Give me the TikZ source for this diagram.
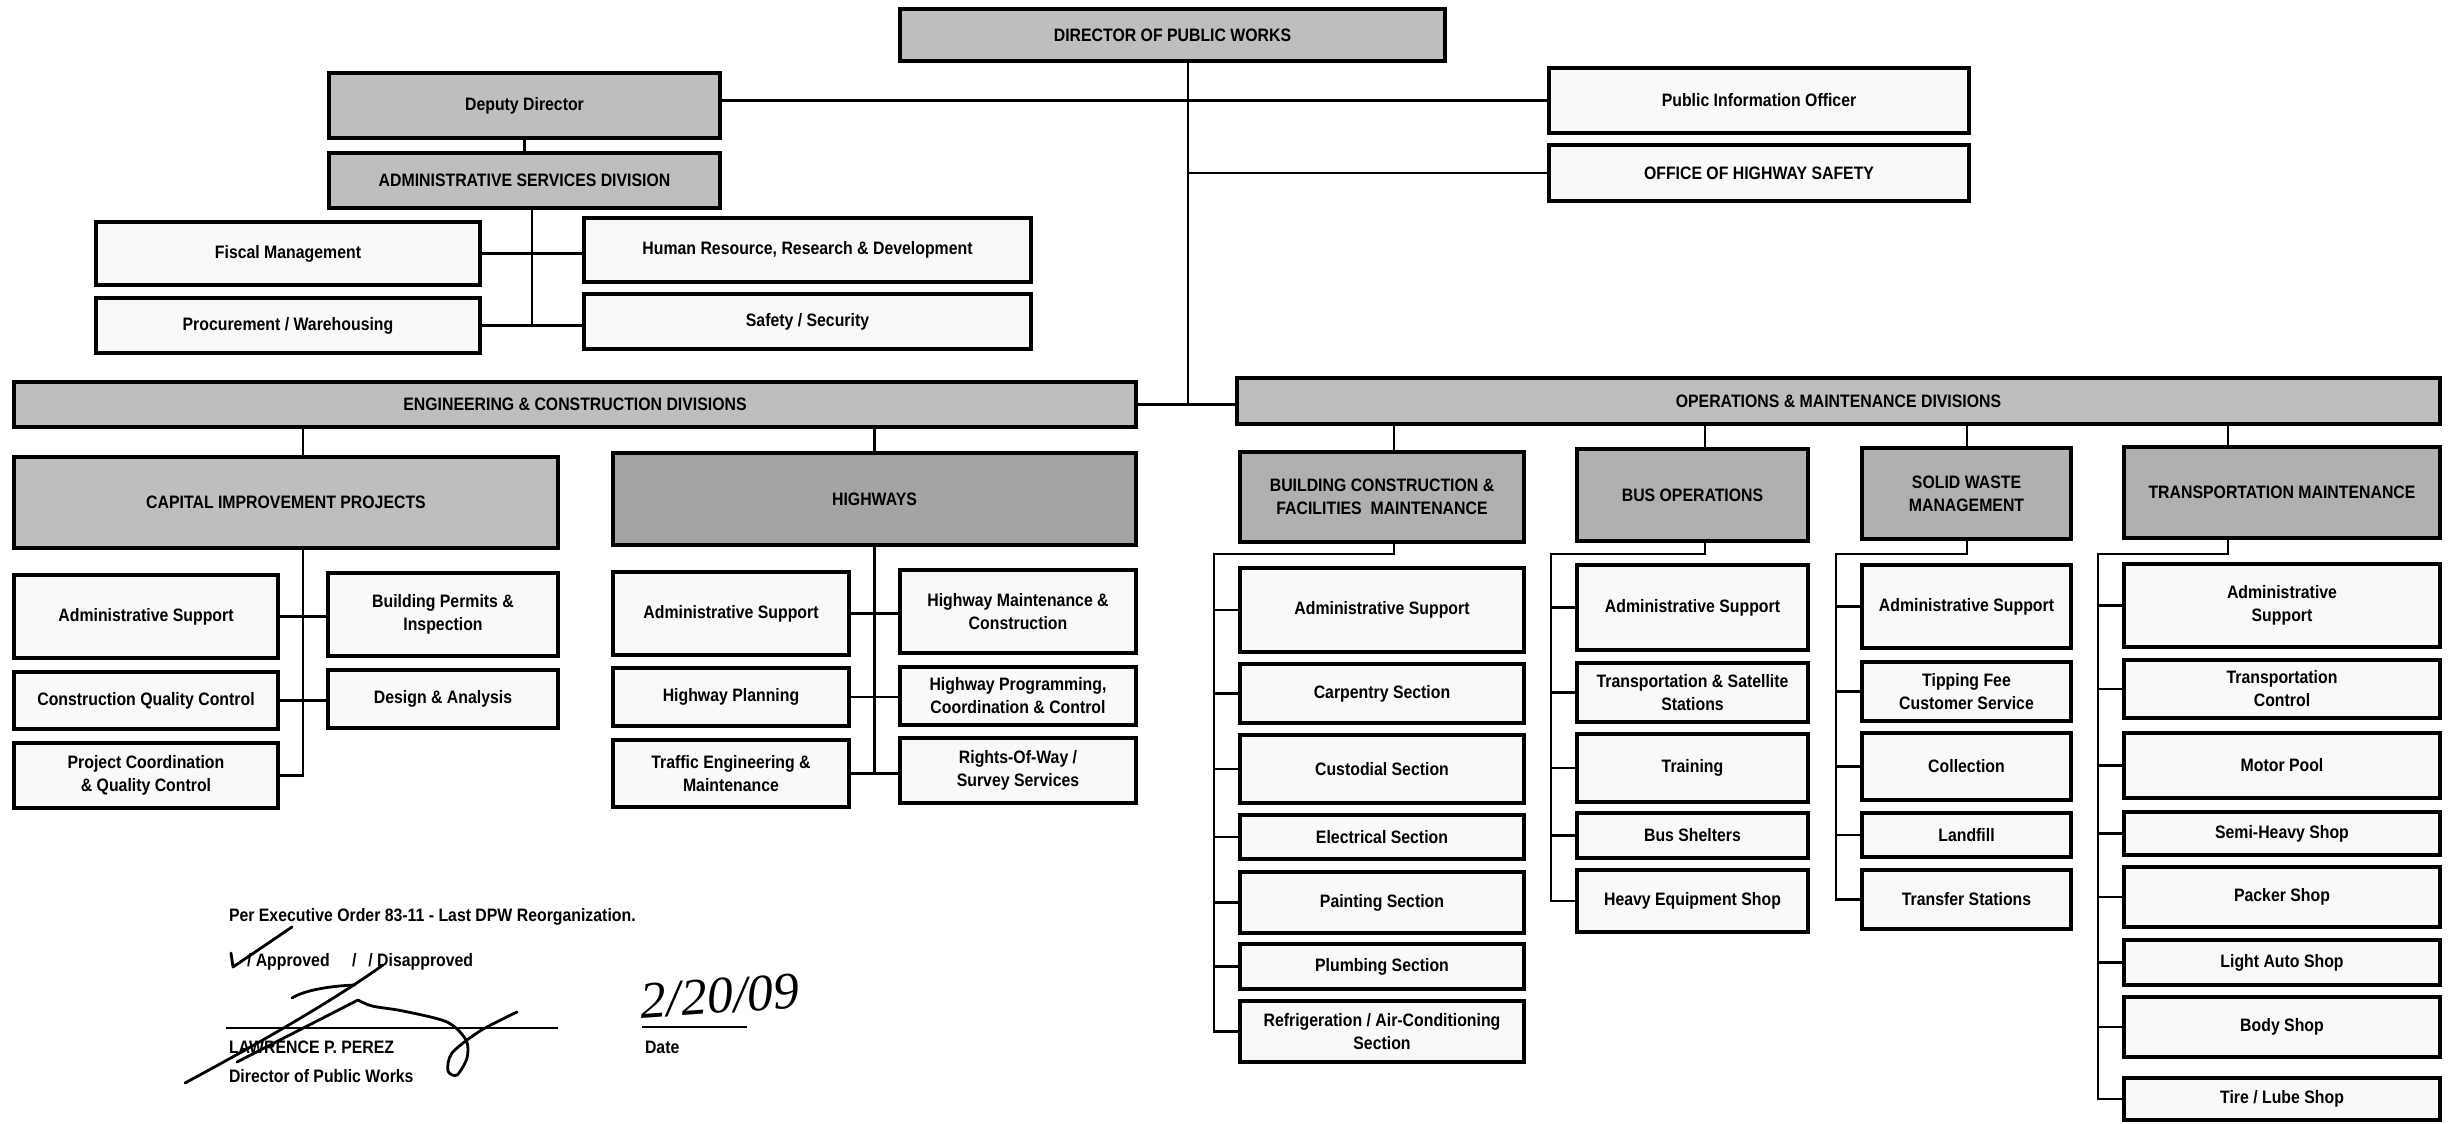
\documentclass[tikz,border=0pt]{standalone}
\usepackage{fontspec}
\setmainfont{Liberation Sans}[FakeStretch=0.88]
\newfontfamily\handfont{Liberation Serif}
\usetikzlibrary{calc}
\definecolor{hdrfill}{HTML}{BEBEBE}
\definecolor{hwyfill}{HTML}{A4A4A4}
\definecolor{subfill}{HTML}{B0B0B0}
\definecolor{boxfill}{HTML}{F9F9F9}
\newcommand\bx[7]{%
  \pgfmathsetmacro\bxw{(#5-#3)*0.5}%
  \pgfmathsetmacro\bxh{(#6-#4)*0.5}%
  \node[#2, minimum width=\bxw pt, minimum height=\bxh pt] (#1) at ({(#3+#5)/2},{(#4+#6)/2}) {#7};}
\begin{document}
\begin{tikzpicture}[x=0.5pt,y=-0.5pt,
  every node/.style={font=\fontsize{9}{11.5}\selectfont\bfseries, align=center, inner sep=0pt, outer sep=0pt},
  hdr/.style={draw=black, line width=1.8pt, fill=hdrfill},
  hdrdark/.style={hdr, fill=hwyfill},
  hdrsub/.style={hdr, fill=subfill},
  unit/.style={draw=black, line width=1.6pt, fill=boxfill},
  conn/.style={line width=1.1pt},
  note/.style={anchor=west, align=left},
  sig/.style={line width=1.4pt, line cap=round, line join=round}]
\fill[white] (0,0) rectangle (2452,1124);
\useasboundingbox (0,0) rectangle (2452,1124);

% ---------- top level ----------
\bx{dir}{hdr}{900}{9}{1445}{61}{DIRECTOR OF PUBLIC WORKS}
\bx{dep}{hdr}{329}{73}{720}{138}{Deputy Director}
\bx{asd}{hdr}{329}{153}{720}{208}{ADMINISTRATIVE SERVICES DIVISION}
\bx{pio}{unit}{1549}{68}{1969}{133}{Public Information Officer}
\bx{ohs}{unit}{1549}{145}{1969}{201}{OFFICE OF HIGHWAY SAFETY}
\bx{fis}{unit}{96}{222}{480}{285}{Fiscal Management}
\bx{pro}{unit}{96}{298}{480}{353}{Procurement / Warehousing}
\bx{hrr}{unit}{584}{218}{1031}{282}{Human Resource, Research \& Development}
\bx{saf}{unit}{584}{294}{1031}{349}{Safety / Security}
\bx{eng}{hdr}{14}{382}{1136}{427}{ENGINEERING \& CONSTRUCTION DIVISIONS}
\bx{ops}{hdr}{1237}{378}{2440}{424}{OPERATIONS \& MAINTENANCE DIVISIONS}

% ---------- engineering ----------
\bx{cip}{hdr}{14}{457}{558}{548}{CAPITAL IMPROVEMENT PROJECTS}
\bx{hwy}{hdrdark}{613}{453}{1136}{545}{HIGHWAYS}
\bx{c1}{unit}{14}{575}{278}{658}{Administrative Support}
\bx{c2}{unit}{328}{573}{558}{656}{Building Permits \&\\Inspection}
\bx{c3}{unit}{14}{672}{278}{729}{Construction Quality Control}
\bx{c4}{unit}{328}{670}{558}{728}{Design \& Analysis}
\bx{c5}{unit}{14}{743}{278}{808}{Project Coordination\\\& Quality Control}
\bx{h1}{unit}{613}{572}{849}{655}{Administrative Support}
\bx{h2}{unit}{900}{570}{1136}{653}{Highway Maintenance \&\\Construction}
\bx{h3}{unit}{613}{668}{849}{726}{Highway Planning}
\bx{h4}{unit}{900}{667}{1136}{725}{Highway Programming,\\Coordination \& Control}
\bx{h5}{unit}{613}{740}{849}{807}{Traffic Engineering \&\\Maintenance}
\bx{h6}{unit}{900}{738}{1136}{803}{Rights-Of-Way /\\Survey Services}

% ---------- operations ----------
\bx{bc}{hdrsub}{1240}{452}{1524}{542}{BUILDING CONSTRUCTION \&\\FACILITIES\ \ MAINTENANCE}
\bx{busop}{hdrsub}{1577}{449}{1808}{541}{BUS OPERATIONS}
\bx{sw}{hdrsub}{1862}{448}{2071}{539}{SOLID WASTE\\MANAGEMENT}
\bx{tm}{hdrsub}{2124}{447}{2440}{538}{TRANSPORTATION MAINTENANCE}

\bx{b1}{unit}{1240}{568}{1524}{652}{Administrative Support}
\bx{b2}{unit}{1240}{664}{1524}{723}{Carpentry Section}
\bx{b3}{unit}{1240}{735}{1524}{803}{Custodial Section}
\bx{b4}{unit}{1240}{815}{1524}{859}{Electrical Section}
\bx{b5}{unit}{1240}{872}{1524}{933}{Painting Section}
\bx{b6}{unit}{1240}{944}{1524}{989}{Plumbing Section}
\bx{b7}{unit}{1240}{1001}{1524}{1062}{Refrigeration / Air-Conditioning\\Section}

\bx{u1}{unit}{1577}{565}{1808}{650}{Administrative Support}
\bx{u2}{unit}{1577}{663}{1808}{722}{Transportation \& Satellite\\Stations}
\bx{u3}{unit}{1577}{734}{1808}{802}{Training}
\bx{u4}{unit}{1577}{813}{1808}{858}{Bus Shelters}
\bx{u5}{unit}{1577}{870}{1808}{932}{Heavy Equipment Shop}

\bx{s1}{unit}{1862}{565}{2071}{648}{Administrative Support}
\bx{s2}{unit}{1862}{662}{2071}{721}{Tipping Fee\\Customer Service}
\bx{s3}{unit}{1862}{733}{2071}{800}{Collection}
\bx{s4}{unit}{1862}{813}{2071}{857}{Landfill}
\bx{s5}{unit}{1862}{870}{2071}{929}{Transfer Stations}

\bx{t1}{unit}{2124}{564}{2440}{647}{Administrative\\Support}
\bx{t2}{unit}{2124}{660}{2440}{718}{Transportation\\Control}
\bx{t3}{unit}{2124}{733}{2440}{798}{Motor Pool}
\bx{t4}{unit}{2124}{812}{2440}{855}{Semi-Heavy Shop}
\bx{t5}{unit}{2124}{867}{2440}{927}{Packer Shop}
\bx{t6}{unit}{2124}{940}{2440}{985}{Light Auto Shop}
\bx{t7}{unit}{2124}{997}{2440}{1057}{Body Shop}
\bx{t8}{unit}{2124}{1078}{2440}{1120}{Tire / Lube Shop}

% ---------- connectors: top ----------
\coordinate (spx) at (1188,0);
\draw[conn] (dir.south -| spx) -- (spx |- eng.east);
\draw[conn] (eng.east) -- (eng.east -| ops.west);
\draw[conn] (dep.east |- pio.west) -- (pio.west);
\draw[conn] (spx |- ohs.west) -- (ohs.west);
\draw[conn] (dep.south) -- (asd.north);
\coordinate (asx) at ($(fis.east)!.5!(hrr.west)$);
\draw[conn] (asd.south -| asx) -- (asx |- pro.east);
\draw[conn] (fis.east) -- (fis.east -| hrr.west);
\draw[conn] (pro.east) -- (pro.east -| saf.west);

% ---------- connectors: engineering ----------
\coordinate (cpx) at ($(c1.east)!.5!(c2.west)$);
\draw[conn] (eng.south -| cpx) -- (cip.north -| cpx);
\draw[conn] (cip.south -| cpx) -- (cpx |- c5.east) -- (c5.east);
\draw[conn] (c1.east) -- (c1.east -| c2.west);
\draw[conn] (c3.east) -- (c3.east -| c4.west);
\coordinate (hwx) at ($(h1.east)!.5!(h2.west)$);
\draw[conn] (eng.south -| hwx) -- (hwy.north -| hwx);
\draw[conn] (hwy.south -| hwx) -- (hwx |- h5.east);
\draw[conn] (h1.east) -- (h1.east -| h2.west);
\draw[conn] (h3.east) -- (h3.east -| h4.west);
\draw[conn] (h5.east) -- (h5.east -| h6.west);

% ---------- connectors: operations ----------
\coordinate (lvl) at (0,554);
\coordinate (bcd) at (1394,0); \coordinate (bcs) at (1214,0);
\coordinate (bud) at (1705,0); \coordinate (bss) at (1551,0);
\coordinate (swd) at (1967,0); \coordinate (sws) at (1836,0);
\coordinate (tmd) at (2228,0); \coordinate (tms) at (2098,0);
\draw[conn] (ops.south -| bcd) -- (bc.north -| bcd);
\draw[conn] (ops.south -| bud) -- (busop.north -| bud);
\draw[conn] (ops.south -| swd) -- (sw.north -| swd);
\draw[conn] (ops.south -| tmd) -- (tm.north -| tmd);
\draw[conn] (bc.south -| bcd) -- (bcd |- lvl) -- (bcs |- lvl) -- (bcs |- b7.west) -- (b7.west);
\foreach \n in {b1,b2,b3,b4,b5,b6} \draw[conn] (bcs |- \n.west) -- (\n.west);
\draw[conn] (busop.south -| bud) -- (bud |- lvl) -- (bss |- lvl) -- (bss |- u5.west) -- (u5.west);
\foreach \n in {u1,u2,u3,u4} \draw[conn] (bss |- \n.west) -- (\n.west);
\draw[conn] (sw.south -| swd) -- (swd |- lvl) -- (sws |- lvl) -- (sws |- s5.west) -- (s5.west);
\foreach \n in {s1,s2,s3,s4} \draw[conn] (sws |- \n.west) -- (\n.west);
\draw[conn] (tm.south -| tmd) -- (tmd |- lvl) -- (tms |- lvl) -- (tms |- t8.west) -- (t8.west);
\foreach \n in {t1,t2,t3,t4,t5,t6,t7} \draw[conn] (tms |- \n.west) -- (\n.west);

% ---------- approval block ----------
\node[note] (eo) at (229,917) {Per Executive Order 83-11 - Last DPW Reorganization.};
\node[note] (apr) at (247,962) {/ Approved};
\node[note] (dis) at (352,962) {/\hspace{6pt}/ Disapproved};
\node[note] (nm) at (229,1047) {LAWRENCE P. PEREZ};
\node[note] (ttl) at (229,1076) {Director of Public Works};
\node[note] (dt) at (645,1047) {Date};
\draw[line width=1.1pt] (226,1028) -- (558,1028);
\draw[line width=1.1pt] (642,1027) -- (747,1027);
\node[font=\handfont\itshape\fontsize{26}{26}\selectfont, rotate=4] (hd) at (720,996) {2/20/09};
% check mark and signature strokes
\draw[sig] (231,953) -- (233,967) -- (292,927);
\draw[sig] (185,1083) .. controls (250,1048) and (330,1003) .. (383,965);
\draw[sig] (292,998) .. controls (305,990) and (330,986) .. (355,985);
\draw[sig] (237,1062) -- (358,1000);
\draw[sig] plot[smooth] coordinates {(358,1000) (372,1006) (403,1011) (447,1022) (466,1040) (467,1058) (457,1075) (448,1071) (452,1053) (480,1031) (517,1012)};
\end{tikzpicture}
\end{document}
